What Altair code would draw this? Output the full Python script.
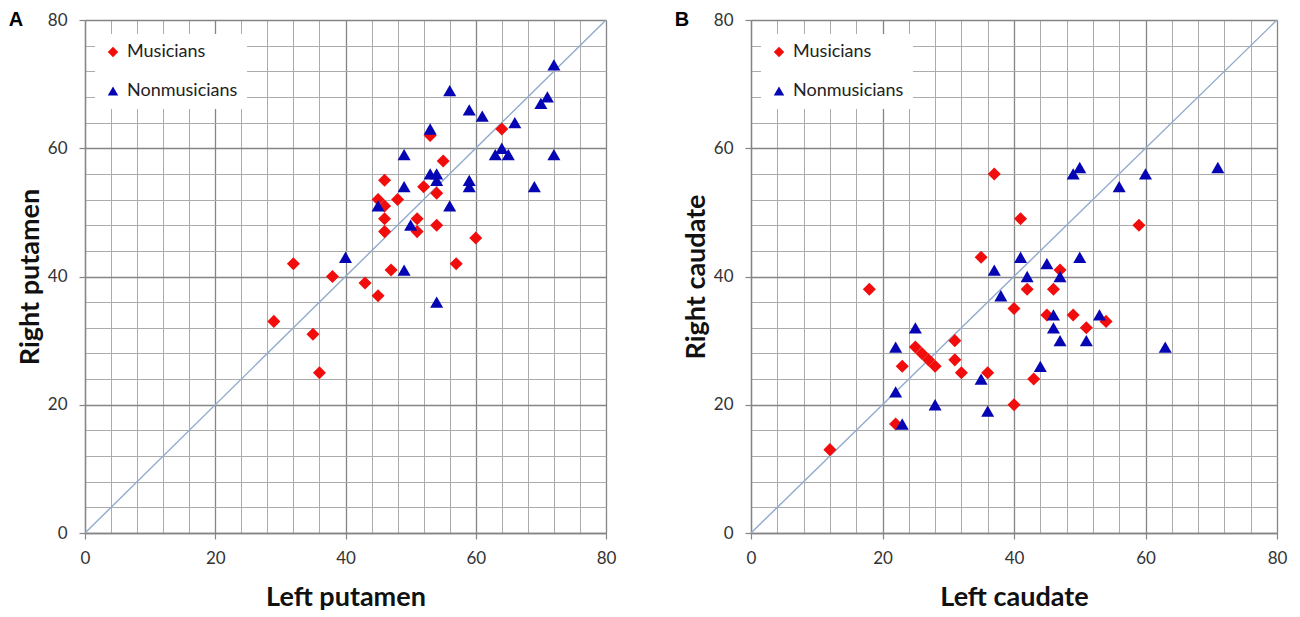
import altair as alt
import pandas as pd

# ---- Panel A data (Left / Right putamen) ----
a_mus_x = [64, 53, 55, 46, 52, 54, 48, 45, 46, 46, 51, 46, 51, 54, 60, 47, 32, 38, 43, 45, 57, 29, 35, 36]
a_mus_y = [63, 62, 58, 55, 54, 53, 52, 52, 51, 49, 49, 47, 47, 48, 46, 41, 42, 40, 39, 37, 42, 33, 31, 25]
a_non_x = [72, 56, 59, 61, 71, 70, 66, 53, 63, 64, 65, 72, 49, 53, 54, 54, 59, 59, 69, 49, 56, 45, 50, 40, 49, 54]
a_non_y = [73, 69, 66, 65, 68, 67, 64, 63, 59, 60, 59, 59, 59, 56, 56, 55, 55, 54, 54, 54, 51, 51, 48, 43, 41, 36]

# ---- Panel B data (Left / Right caudate) ----
b_mus_x = [37, 41, 59, 35, 47, 18, 42, 46, 40, 45, 49, 51, 54, 31, 25, 26, 27, 28, 31, 23, 32, 36, 43, 40, 22, 12]
b_mus_y = [56, 49, 48, 43, 41, 38, 38, 38, 35, 34, 34, 32, 33, 30, 29, 28, 27, 26, 27, 26, 25, 25, 24, 20, 17, 13]
b_non_x = [50, 49, 60, 71, 56, 41, 50, 45, 37, 42, 47, 38, 46, 53, 46, 25, 47, 51, 22, 44, 35, 22, 28, 36, 23, 63]
b_non_y = [57, 56, 56, 57, 54, 43, 43, 42, 41, 40, 40, 37, 34, 34, 32, 32, 30, 30, 29, 26, 24, 22, 20, 19, 17, 29]

groups = ["Musicians", "Nonmusicians"]
group_colors = ["#f20d0d", "#0505b4"]
group_shapes = ["diamond", "triangle-up"]
diag = [0, 80]
axis_values = list(range(0, 81, 4))

MAJOR = "#858585"
MINOR = "#ababab"
H = 513
IS_MAJOR = "datum.value % 20 === 0"


def make_axis(title, kind, w):
    common = dict(
        values=axis_values,
        title=title,
        labelExpr=f"{IS_MAJOR} ? datum.label : ''",
        labelOverlap=False,
        labelFlush=False,
        grid=True,
        gridColor={"condition": {"test": IS_MAJOR, "value": MAJOR}, "value": MINOR},
        gridWidth={"condition": {"test": IS_MAJOR, "value": 1.3}, "value": 1},
        tickColor={"condition": {"test": IS_MAJOR, "value": MAJOR}, "value": "transparent"},
        tickSize=6,
        tickWidth=1.2,
        domainColor=MAJOR,
        domainWidth=1.3,
        labelFont="Lato",
        labelFontSize=17,
        labelColor="#333333",
        titleFont="Lato",
        titleFontSize=27,
        titleFontWeight="bold",
        titleColor="#111111",
        titleBaseline="middle",
        titleAlign="center",
    )
    if kind == "x":
        return alt.Axis(**common, labelPadding=11, titleX=w / 2, titleY=64)
    return alt.Axis(**common, labelPadding=12, titleX=-55, titleY=H / 2, titleAngle=270)


def panel(mx, my, nx, ny, xtitle, ytitle, letter, w):
    df = pd.DataFrame({
        "x": mx + nx,
        "y": my + ny,
        "group": [groups[0]] * len(mx) + [groups[1]] * len(nx),
    })
    xs = alt.Scale(domain=[0, 80], nice=False)
    ys = alt.Scale(domain=[0, 80], nice=False)
    xenc = alt.X("x:Q", scale=xs, axis=make_axis(xtitle, "x", w))
    yenc = alt.Y("y:Q", scale=ys, axis=make_axis(ytitle, "y", w))

    line = alt.Chart(pd.DataFrame({"x": diag, "y": diag})).mark_line(
        color="#92aacd", strokeWidth=1.4
    ).encode(x=xenc, y=yenc)

    leg = alt.Legend(
        orient="none", legendX=10, legendY=14, fillColor="white", padding=9,
        symbolSize=110, labelFontSize=18, labelFont="Lato", labelColor="#222222",
        rowPadding=21, title=None, symbolStrokeWidth=0, labelOffset=5,
    )
    pts = alt.Chart(df).mark_point(filled=True, opacity=1, size=170).encode(
        x=xenc,
        y=yenc,
        color=alt.Color("group:N", scale=alt.Scale(domain=groups, range=group_colors), legend=leg),
        shape=alt.Shape("group:N", scale=alt.Scale(domain=groups, range=group_shapes), legend=leg),
    )

    lab = alt.Chart(pd.DataFrame({"t": [letter]})).mark_text(
        font="Liberation Sans", fontWeight="bold", fontSize=20, align="center",
        baseline="middle", color="black"
    ).encode(x=alt.value(-69), y=alt.value(0), text="t:N")

    return alt.layer(line, pts, lab).properties(width=w, height=H)


A = panel(a_mus_x, a_mus_y, a_non_x, a_non_y, "Left putamen", "Right putamen", "A", 521)
B = panel(b_mus_x, b_mus_y, b_non_x, b_non_y, "Left caudate", "Right caudate", "B", 526)

chart = (
    alt.hconcat(A, B, spacing=145, bounds="flush")
    .resolve_scale(x="independent", y="independent", color="independent", shape="independent")
    .resolve_legend(color="independent", shape="independent")
    .properties(padding={"left": 0, "top": 2, "right": 5, "bottom": 0}, background="white")
    .configure_view(stroke=None)
)

chart.save("out.html", embed_options={"renderer": "svg", "actions": False})
